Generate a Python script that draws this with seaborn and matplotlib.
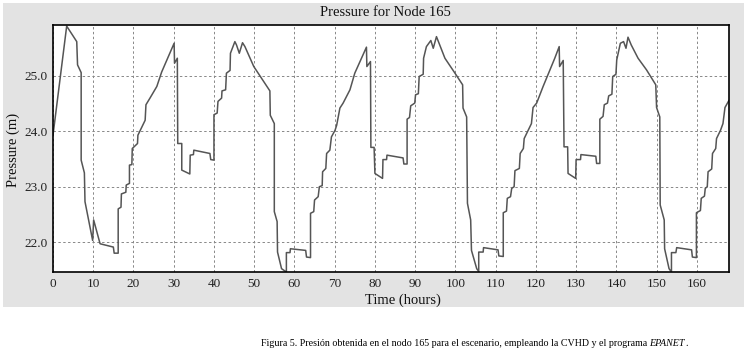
import matplotlib
matplotlib.use("Agg")
import matplotlib.pyplot as plt
from matplotlib.patches import Rectangle
import seaborn as sns
import pandas as pd

# Simulated pressure at node 165 (time in hours, pressure in m)
hours = [
    0.0, 3.4, 5.9, 6.1, 7.0, 7.0, 7.8, 7.95, 9.85, 10.1, 11.7, 15.0, 15.2, 16.2, 16.2,
    16.9, 17.0, 18.1, 18.2, 19.0, 19.0, 19.6, 19.7, 21.0, 21.1, 22.9, 23.1, 24.1, 25.8,
    27.0, 30.1, 30.2, 30.9, 31.0, 32.0, 32.0, 34.0, 34.1, 34.9, 35.0, 39.0, 39.2, 40.0,
    40.0, 40.8, 41.0, 41.9, 42.0, 42.9, 43.1, 44.0, 44.1, 45.2, 45.6, 46.3, 47.1, 47.7,
    49.9, 53.9, 54.0, 55.0, 55.0, 55.7, 55.8, 56.8, 58.0, 58.0, 58.9, 59.0, 62.8, 63.0,
    64.0, 64.0, 64.8, 65.0, 65.9, 66.2, 66.9, 67.0, 67.8, 68.0, 68.8, 69.2, 70.1, 70.5,
    71.3, 72.1, 73.8, 75.0, 77.9, 78.0, 78.9, 79.0, 79.8, 80.0, 81.9, 82.0, 82.9, 83.0,
    87.0, 87.2, 88.0, 88.0, 88.6, 88.9, 89.9, 90.1, 90.8, 91.0, 92.0, 92.1, 92.8, 93.9,
    94.5, 95.3, 96.1, 97.4, 99.9, 101.8, 101.9, 102.8, 103.0, 103.8, 104.0, 105.3, 105.8,
    105.8, 106.9, 107.0, 110.6, 110.8, 111.9, 111.9, 112.7, 112.9, 113.7, 114.0, 114.6,
    114.8, 115.9, 116.1, 116.9, 117.1, 118.1, 118.9, 119.3, 120.2, 121.8, 124.7, 125.8,
    125.9, 126.8, 127.0, 127.9, 128.0, 129.9, 130.0, 131.1, 131.2, 134.9, 135.1, 135.9,
    135.9, 136.7, 137.0, 137.8, 138.1, 138.9, 139.1, 139.9, 140.1, 141.0, 141.8, 142.4,
    142.9, 143.7, 145.4, 147.5, 149.8, 150.0, 150.8, 150.9, 151.9, 152.0, 153.1, 153.7,
    153.7, 154.8, 155.0, 158.7, 158.9, 159.9, 159.9, 160.9, 161.1, 161.9, 162.1, 162.6,
    162.8, 163.7, 163.9, 164.7, 164.9, 165.9, 166.5, 167.0, 168.0,
]
pressure = [
    23.93, 25.90, 25.62, 25.20, 25.06, 23.48, 23.25, 22.73, 22.03, 22.40, 21.97, 21.91, 21.80, 21.80, 22.60,
    22.63, 22.87, 22.90, 23.03, 23.06, 23.39, 23.40, 23.69, 23.78, 23.93, 24.20, 24.48, 24.60, 24.81,
    25.07, 25.59, 25.23, 25.32, 23.78, 23.78, 23.30, 23.23, 23.57, 23.58, 23.66, 23.60, 23.49, 23.48,
    24.30, 24.33, 24.54, 24.60, 24.73, 24.75, 25.05, 25.10, 25.41, 25.62, 25.56, 25.41, 25.60, 25.53,
    25.17, 24.73, 24.29, 24.14, 22.55, 22.37, 21.82, 21.52, 21.46, 21.81, 21.81, 21.88, 21.85, 21.73,
    21.72, 22.52, 22.55, 22.76, 22.82, 23.00, 23.02, 23.27, 23.33, 23.60, 23.66, 23.90, 24.02, 24.11,
    24.42, 24.51, 24.75, 25.05, 25.52, 25.17, 25.26, 23.71, 23.71, 23.24, 23.15, 23.49, 23.49, 23.57,
    23.52, 23.41, 23.41, 24.22, 24.25, 24.46, 24.51, 24.66, 24.68, 24.99, 25.03, 25.32, 25.53, 25.64,
    25.50, 25.71, 25.56, 25.32, 25.05, 24.84, 24.42, 24.26, 22.70, 22.40, 21.85, 21.52, 21.47,
    21.82, 21.82, 21.90, 21.86, 21.75, 21.74, 22.53, 22.56, 22.79, 22.82, 22.97, 23.00,
    23.29, 23.33, 23.60, 23.69, 23.87, 24.02, 24.14, 24.43, 24.51, 24.81, 25.32, 25.53,
    25.17, 25.28, 23.72, 23.72, 23.24, 23.15, 23.49, 23.49, 23.58, 23.55, 23.42, 23.42,
    24.22, 24.27, 24.48, 24.51, 24.64, 24.67, 24.99, 25.03, 25.29, 25.59, 25.62, 25.50,
    25.70, 25.56, 25.32, 25.11, 24.84, 24.43, 24.26, 22.67, 22.40, 21.88, 21.52, 21.46,
    21.81, 21.81, 21.90, 21.86, 21.73, 21.72, 22.53, 22.57, 22.79, 22.83, 22.97, 23.00,
    23.27, 23.32, 23.60, 23.69, 23.87, 24.02, 24.14, 24.43, 24.56,
]

x_ticks = list(range(0, 161, 10))
y_ticks = [22.0, 23.0, 24.0, 25.0]

df = pd.DataFrame({"Time": hours, "Pressure": pressure})

sns.set_style("white")
plt.rcParams["font.family"] = ["Liberation Serif", "DejaVu Serif"]

W, H = 750, 356
fig = plt.figure(figsize=(W / 100, H / 100), dpi=100, facecolor="white")

# grey panel behind the graph
fig.patches.append(Rectangle((3 / W, 1 - 307 / H), 741 / W, 304 / H,
                             transform=fig.transFigure, facecolor="#e3e3e3",
                             edgecolor="none", zorder=-5))

ax = fig.add_axes([53 / W, 1 - 272 / H, 676 / W, 247 / H])
ax.set_zorder(2)
ax.set_facecolor("white")

sns.lineplot(data=df, x="Time", y="Pressure", estimator=None, sort=False,
             color="#555555", linewidth=1.1, ax=ax)

ax.set_xlim(0, 168)
ax.set_ylim(21.46, 25.92)
ax.set_xticks(x_ticks)
ax.set_yticks(y_ticks)
ax.set_yticklabels([f"{v:.1f}" for v in y_ticks])
ax.tick_params(axis="both", length=0, labelsize=9.5, pad=4, colors="#222222")
ax.grid(True, color="#888888", linestyle=(0, (2.5, 2.5)), linewidth=0.7)
for s in ax.spines.values():
    s.set_color("black")
    s.set_linewidth(1.2)
ax.set_xlabel("")
ax.set_ylabel("")

fig.text(385 / W, 1 - 13 / H, "Pressure for Node 165", ha="center", va="center",
         fontsize=10.5, color="#111111")
fig.text(403 / W, 1 - 300 / H, "Time (hours)", ha="center", va="center",
         fontsize=10.5, color="#111111")
fig.text(13 / W, 1 - 150 / H, "Pressure (m)", ha="center", va="center",
         rotation=90, fontsize=10.5, color="#111111")

# caption with italic program name
cap_size = 7.2
fig.canvas.draw()
r = fig.canvas.get_renderer()
t1 = fig.text(0, 1 - 343 / H, "Figura 5. Presión obtenida en el nodo 165 para el escenario, "
              "empleando la CVHD y el programa ", ha="left", va="center",
              fontsize=cap_size, color="black")
t2 = fig.text(0, 1 - 343 / H, "EPANET", ha="left", va="center", fontsize=cap_size,
              style="italic", color="black")
t3 = fig.text(0, 1 - 343 / H, ".", ha="left", va="center", fontsize=cap_size, color="black")
w1 = t1.get_window_extent(r).width
w2 = t2.get_window_extent(r).width
w3 = t3.get_window_extent(r).width
x0 = 474 - (w1 + w2 + w3) / 2
t1.set_x(x0 / W)
t2.set_x((x0 + w1) / W)
t3.set_x((x0 + w1 + w2) / W)

fig.savefig("out.png", dpi=100, facecolor="white")
plt.close(fig)
